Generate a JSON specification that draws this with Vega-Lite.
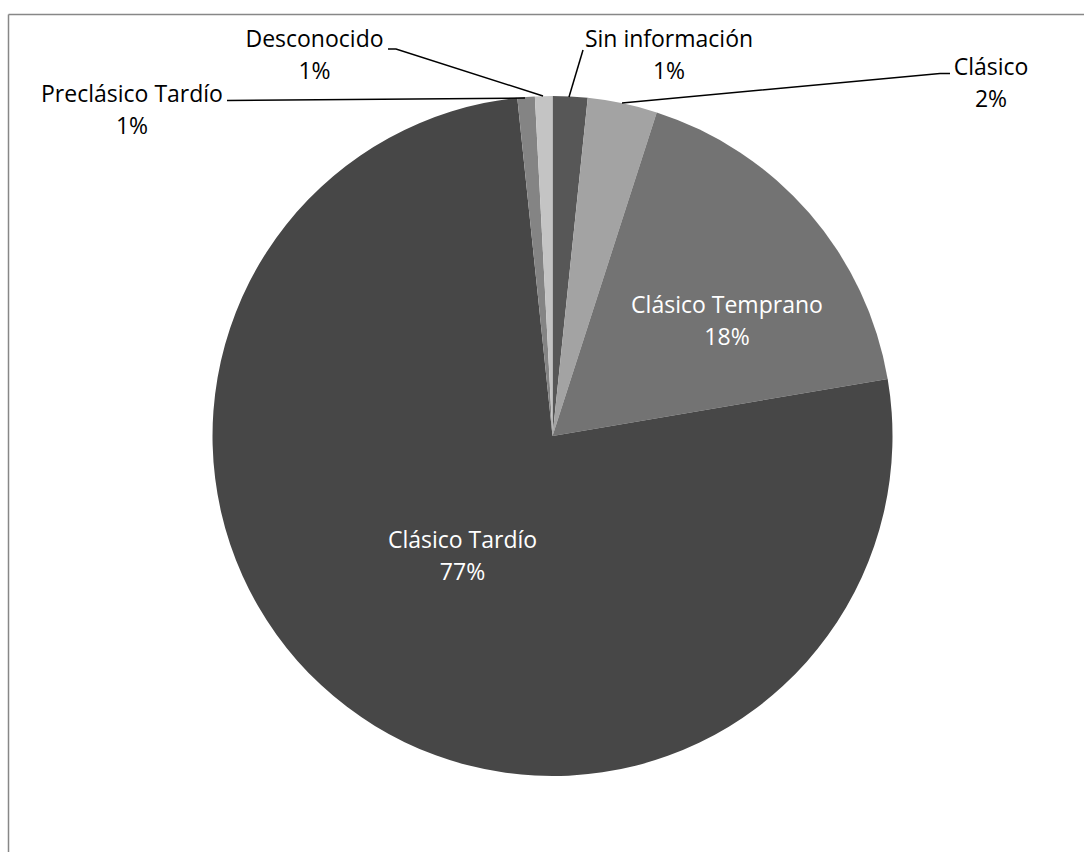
{
  "$schema": "https://vega.github.io/schema/vega-lite/v6.json",
  "width": 1084,
  "height": 852,
  "autosize": "none",
  "padding": 0,
  "background": "white",
  "config": {"view": {"stroke": null}},
  "datasets": {
    "slices": [
      {"name": "Sin información", "n": 2, "o": 1},
      {"name": "Clásico", "n": 4, "o": 2},
      {"name": "Clásico Temprano", "n": 21, "o": 3},
      {"name": "Clásico Tardío", "n": 92, "o": 4},
      {"name": "Preclásico Tardío", "n": 1, "o": 5},
      {"name": "Desconocido", "n": 1, "o": 6}
    ],
    "leaders": [
      {"g": "Desconocido", "o": 1, "u": -0.4838, "v": 1.1382},
      {"g": "Desconocido", "o": 2, "u": -0.4603, "v": 1.1382},
      {"g": "Desconocido", "o": 3, "u": -0.0279, "v": 1.0},
      {"g": "Sin información", "o": 1, "u": 0.0897, "v": 1.1353},
      {"g": "Sin información", "o": 2, "u": 0.0485, "v": 0.9971},
      {"g": "Preclásico Tardío", "o": 1, "u": -0.9574, "v": 0.9868},
      {"g": "Preclásico Tardío", "o": 2, "u": -0.0809, "v": 0.9941},
      {"g": "Clásico", "o": 1, "u": 0.2044, "v": 0.9794},
      {"g": "Clásico", "o": 2, "u": 1.1397, "v": 1.0662},
      {"g": "Clásico", "o": 3, "u": 1.1691, "v": 1.0662}
    ],
    "outside": [
      {"t": "Desconocido\n1%", "u": -0.7, "v": 1.1441},
      {"t": "Sin información\n1%", "u": 0.3426, "v": 1.1441},
      {"t": "Preclásico Tardío\n1%", "u": -1.2368, "v": 0.9824},
      {"t": "Clásico\n2%", "u": 1.2897, "v": 1.0618}
    ],
    "inside": [
      {"t": "Clásico Temprano\n18%", "u": 0.5132, "v": 0.3608},
      {"t": "Clásico Tardío\n77%", "u": -0.2647, "v": -0.3294}
    ]
  },
  "layer": [
    {
      "data": {"values": [{}]},
      "mark": {"type": "rule", "stroke": "#878787", "strokeWidth": 1.5},
      "encoding": {
        "x": {"datum": -1.6, "type": "quantitative", "scale": {"domain": [-1.625, 1.5632], "nice": false, "zero": false}, "axis": null},
        "y": {"datum": 1.2397, "type": "quantitative", "scale": {"domain": [-1.2235, 1.2824], "nice": false, "zero": false}, "axis": null},
        "y2": {"datum": -1.2235}
      }
    },
    {
      "data": {"values": [{}]},
      "mark": {"type": "rule", "stroke": "#878787", "strokeWidth": 1.5},
      "encoding": {
        "x": {"datum": -1.6, "type": "quantitative", "scale": {"domain": [-1.625, 1.5632], "nice": false, "zero": false}, "axis": null},
        "x2": {"datum": 1.5632},
        "y": {"datum": 1.2397, "type": "quantitative", "scale": {"domain": [-1.2235, 1.2824], "nice": false, "zero": false}, "axis": null}
      }
    },
    {
      "data": {"name": "slices"},
      "mark": {"type": "arc", "outerRadius": 340},
      "encoding": {
        "theta": {"field": "n", "type": "quantitative", "stack": true},
        "order": {"field": "o", "type": "quantitative"},
        "color": {
          "field": "name", "type": "nominal", "legend": null,
          "scale": {
            "domain": ["Sin información", "Clásico", "Clásico Temprano", "Clásico Tardío", "Preclásico Tardío", "Desconocido"],
            "range": ["#575757", "#a3a3a3", "#737373", "#474747", "#848484", "#c4c4c4"]
          }
        },
        "x": {"datum": 0, "type": "quantitative", "scale": {"domain": [-1.625, 1.5632], "nice": false, "zero": false}, "axis": null},
        "y": {"datum": 0, "type": "quantitative", "scale": {"domain": [-1.2235, 1.2824], "nice": false, "zero": false}, "axis": null}
      }
    },
    {
      "data": {"name": "leaders"},
      "mark": {"type": "line", "stroke": "black", "strokeWidth": 1.5},
      "encoding": {
        "x": {"field": "u", "type": "quantitative", "scale": {"domain": [-1.625, 1.5632], "nice": false, "zero": false}, "axis": null},
        "y": {"field": "v", "type": "quantitative", "scale": {"domain": [-1.2235, 1.2824], "nice": false, "zero": false}, "axis": null},
        "detail": {"field": "g", "type": "nominal"},
        "order": {"field": "o", "type": "quantitative"}
      }
    },
    {
      "data": {"name": "outside"},
      "mark": {"type": "text", "font": "Open Sans", "fontSize": 23, "lineBreak": "\n", "lineHeight": 32, "align": "center", "baseline": "alphabetic", "color": "black"},
      "encoding": {
        "x": {"field": "u", "type": "quantitative", "scale": {"domain": [-1.625, 1.5632], "nice": false, "zero": false}, "axis": null},
        "y": {"field": "v", "type": "quantitative", "scale": {"domain": [-1.2235, 1.2824], "nice": false, "zero": false}, "axis": null},
        "text": {"field": "t"}
      }
    },
    {
      "data": {"name": "inside"},
      "mark": {"type": "text", "font": "Open Sans", "fontSize": 23, "lineBreak": "\n", "lineHeight": 32, "align": "center", "baseline": "alphabetic", "color": "white"},
      "encoding": {
        "x": {"field": "u", "type": "quantitative", "scale": {"domain": [-1.625, 1.5632], "nice": false, "zero": false}, "axis": null},
        "y": {"field": "v", "type": "quantitative", "scale": {"domain": [-1.2235, 1.2824], "nice": false, "zero": false}, "axis": null},
        "text": {"field": "t"}
      }
    }
  ]
}
